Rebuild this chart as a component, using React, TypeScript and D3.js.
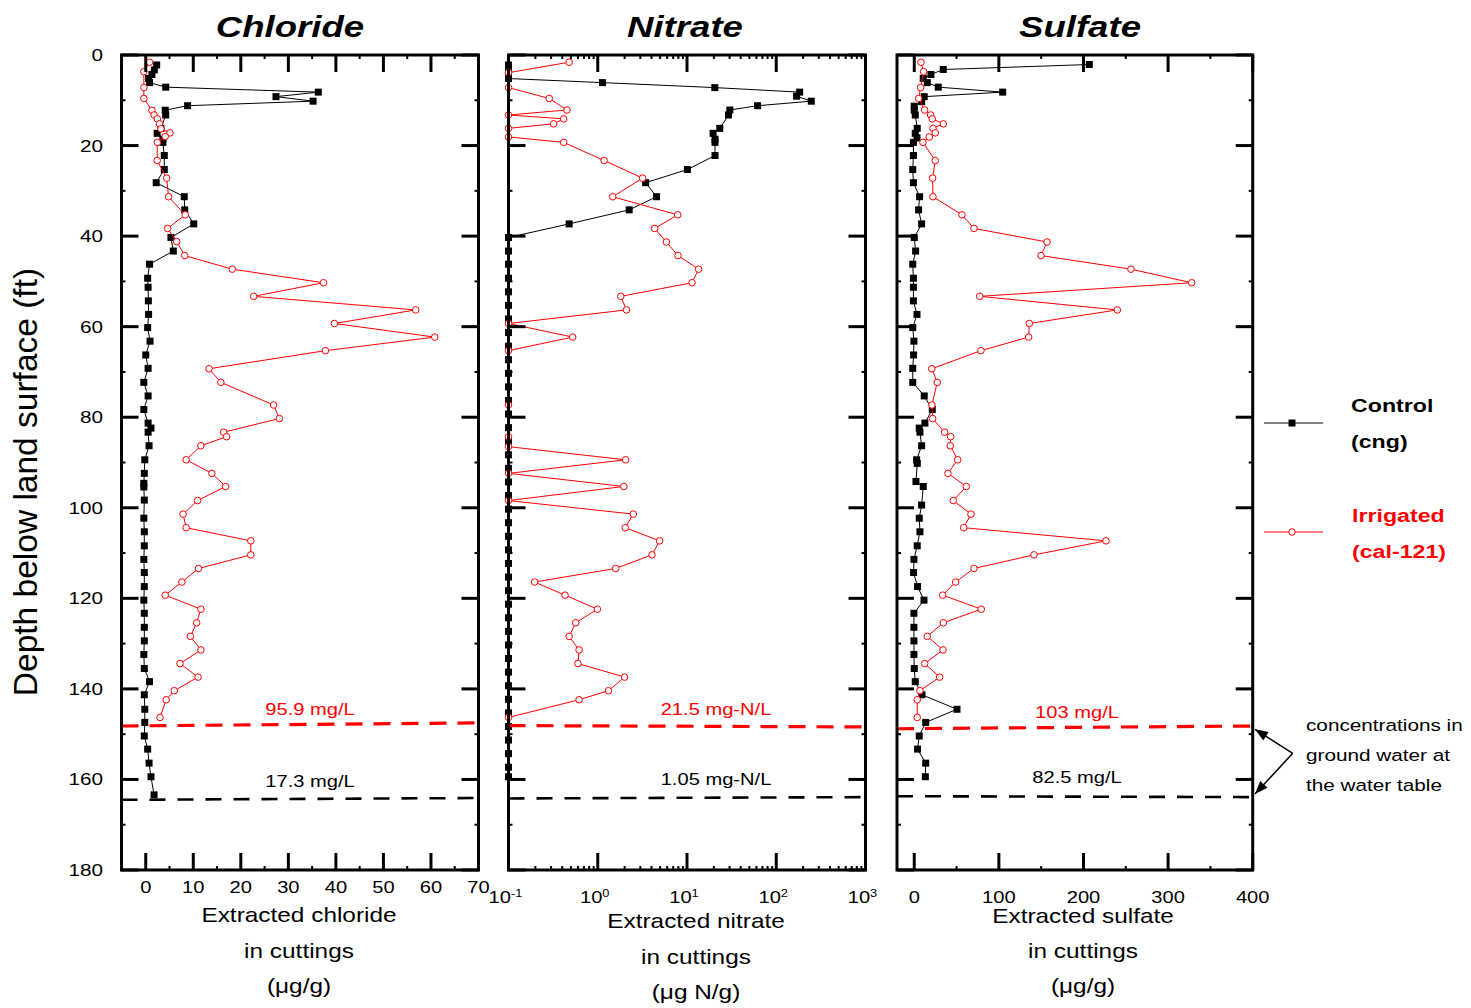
import React from 'react';
import * as d3 from 'd3';

// depth below land surface (ft) and extracted concentration
const clCtrlDepth = [2.2, 3.3, 4.3, 5.2, 6.1, 7.1, 8.2, 9.2, 10.2, 11.2, 12.2, 13.25, 16.2, 17.3, 18.6, 19.3, 22.2, 25.3, 28.2, 31.3, 34.2, 37.3, 40.3, 43.3, 46.2, 49.3, 51.3, 54.3, 57.3, 60.2, 63.2, 66.25, 69.2, 72.3, 75.3, 78.3, 81.3, 82.4, 83.3, 86.3, 89.4, 92.4, 94.6, 95.4, 98.3, 102.3, 105.3, 108.4, 111.4, 114.3, 117.4, 120.4, 123.3, 126.4, 129.4, 132.4, 135.5, 138.4, 141.3, 144.5, 147.4, 150.4, 153.3, 156.4, 159.4, 163.4];
const clCtrlValue = [2.3, 1.8, 1.3, 0.6, 0.8, 4.2, 36.3, 27.4, 35.2, 8.8, 4.1, 4.2, 3.2, 2.4, 3.6, 3.6, 3.9, 3.9, 2.2, 8.1, 8.2, 10.1, 5.3, 5.8, 0.8, 0.4, 0.5, 0.55, 0.6, 0.4, 0.9, 0.0, 0.5, -0.4, 0.5, -0.4, 0.5, 1.1, 0.5, 0.7, -0.2, -0.3, -0.4, -0.4, -0.3, -0.4, -0.3, -0.3, -0.4, -0.3, -0.3, -0.4, -0.3, -0.3, -0.3, -0.4, -0.3, 0.8, -0.3, -0.2, -0.2, -0.3, 0.4, 0.7, 1.1, 1.75];
const clIrrDepth = [1.6, 3.7, 7.2, 9.6, 12.2, 13.25, 14.1, 15.2, 16.3, 17.2, 18.0, 19.3, 23.3, 27.2, 31.3, 35.3, 38.3, 41.2, 44.3, 47.3, 50.3, 53.3, 56.3, 59.3, 62.3, 65.3, 69.3, 72.3, 77.3, 80.3, 83.3, 84.3, 86.3, 89.4, 92.4, 95.3, 98.4, 101.4, 104.4, 107.3, 110.4, 113.4, 116.4, 119.3, 122.4, 125.4, 128.4, 131.4, 134.4, 137.4, 140.4, 142.4, 146.3];
const clIrrValue = [0.8, -0.4, -0.4, -0.4, 1.3, 1.75, 2.45, 2.9, 3.2, 5.1, 4.1, 2.45, 2.4, 4.4, 4.8, 8.3, 4.6, 6.5, 8.2, 18.2, 37.4, 22.7, 56.8, 39.7, 60.8, 37.8, 13.3, 15.8, 26.9, 28.1, 16.4, 17.0, 11.6, 8.5, 13.9, 16.8, 10.9, 7.85, 8.5, 22.1, 22.1, 11.1, 7.6, 4.1, 11.6, 10.7, 9.4, 11.6, 7.2, 11.0, 6.0, 4.3, 3.0];

const noCtrlDepth = [2.2, 3.7, 5.2, 6.1, 7.2, 8.2, 9.1, 10.2, 11.2, 12.15, 13.25, 16.2, 17.3, 18.6, 19.3, 22.2, 25.3, 28.2, 31.3, 34.2, 37.3, 40.3, 43.3, 46.2, 49.3, 52.3, 55.3, 58.3, 61.3, 64.3, 67.3, 70.3, 73.3, 76.3, 79.3, 82.3, 85.3, 88.3, 91.3, 94.3, 97.3, 100.3, 103.3, 106.3, 109.3, 112.3, 115.3, 118.3, 121.3, 124.3, 127.3, 130.3, 133.3, 136.3, 139.3, 142.3, 145.3, 148.3, 151.3, 154.3, 157.3, 159.4];
const noCtrlValue = [0.1, 0.1, 0.1, 1.13, 20.5, 183, 169, 247, 61.8, 30.2, 29.2, 23.3, 19.6, 20.6, 20.6, 20.6, 10.1, 3.44, 4.56, 2.25, 0.478, 0.1, 0.1, 0.1, 0.1, 0.1, 0.1, 0.1, 0.1, 0.1, 0.1, 0.1, 0.1, 0.1, 0.1, 0.1, 0.1, 0.1, 0.1, 0.1, 0.1, 0.1, 0.1, 0.1, 0.1, 0.1, 0.1, 0.1, 0.1, 0.1, 0.1, 0.1, 0.1, 0.1, 0.1, 0.1, 0.1, 0.1, 0.1, 0.1, 0.1, 0.1];
const noIrrDepth = [1.6, 3.9, 7.2, 9.6, 12.15, 13.25, 14.1, 15.2, 16.2, 18.1, 19.3, 23.3, 27.2, 31.3, 35.3, 38.3, 41.3, 44.3, 47.3, 50.3, 53.3, 56.3, 59.3, 62.3, 65.3, 77.3, 84.3, 86.5, 89.4, 92.4, 95.3, 98.4, 101.4, 104.4, 107.3, 110.4, 113.4, 116.4, 119.3, 122.4, 125.4, 128.4, 131.4, 134.4, 137.4, 140.4, 142.4, 146.3];
const noIrrValue = [0.478, 0.1, 0.1, 0.286, 0.453, 0.1, 0.415, 0.32, 0.1, 0.1, 0.415, 1.18, 3.18, 1.47, 7.87, 4.34, 5.87, 7.93, 13.5, 11.4, 1.81, 2.1, 0.1, 0.524, 0.1, 0.1, 0.1, 0.1, 2.05, 0.1, 1.96, 0.1, 2.5, 2.03, 4.93, 4.05, 1.59, 0.196, 0.43, 0.99, 0.566, 0.478, 0.618, 0.6, 2.0, 1.32, 0.618, 0.1];

const soCtrlDepth = [2.1, 3.2, 4.3, 5.15, 6.1, 7.1, 8.2, 9.2, 10.3, 11.3, 12.2, 13.25, 16.2, 17.3, 18.3, 19.3, 22.2, 25.3, 28.2, 31.3, 34.2, 37.3, 40.3, 43.3, 46.2, 49.3, 51.3, 54.3, 57.3, 60.2, 63.2, 66.25, 69.2, 72.3, 75.3, 78.3, 81.3, 82.4, 83.3, 86.3, 89.4, 90.2, 94.2, 95.3, 99.4, 102.3, 105.3, 108.4, 111.4, 114.3, 117.4, 120.4, 123.3, 126.4, 129.4, 132.4, 135.5, 138.4, 141.3, 144.5, 147.4, 150.4, 153.3, 156.4, 159.4];
const soCtrlValue = [206.9, 34.3, 19.7, 10.6, 15.4, 28.4, 104.5, 11.8, 8.7, 0, 0, 1.2, 3.5, 1.2, 3.2, -1, -1, -1.8, -1, 6.3, 5.1, 8.7, 0, 1.6, -1.8, -1, -1, -1, 3.2, -1.8, -0.4, -0.8, -1.8, -1.8, 11.8, 21.3, 12.6, 5.9, 6.7, 8.7, 2.8, 3.6, 2.0, 10.6, 8.7, 5.9, 6.7, 3.5, -0.4, -0.8, 3.9, 11.5, -0.4, -0.4, -0.4, -0.4, 0, 1.2, 9.1, 50.5, 13.5, 5.9, 3.9, 13.5, 13.1];
const soIrrDepth = [1.6, 3.7, 7.2, 9.6, 12.15, 13.25, 14.1, 15.2, 16.2, 17.2, 18.1, 19.3, 23.3, 27.2, 31.3, 35.3, 38.3, 41.3, 44.3, 47.3, 50.3, 53.3, 56.3, 59.3, 62.3, 65.3, 69.3, 72.3, 77.3, 80.3, 83.3, 84.3, 86.3, 89.4, 92.4, 95.3, 98.4, 101.4, 104.4, 107.3, 110.4, 113.4, 116.4, 119.3, 122.4, 125.4, 128.4, 131.4, 134.4, 137.4, 140.4, 142.4, 146.3];
const soIrrValue = [7.9, 11.1, 7.5, 5.2, 12.3, 19.4, 21.3, 34.3, 22.1, 24.8, 17.7, 10.3, 24.8, 21.7, 22.1, 56.4, 70.6, 156.9, 149.8, 256.1, 327.9, 77.3, 240, 136, 135.2, 78.8, 20.6, 27.2, 20.9, 21.7, 35.9, 43, 42.6, 51.3, 39.8, 61.5, 46.1, 67, 58.4, 226.6, 141.5, 70.6, 48.9, 33.6, 79.2, 34.3, 15.4, 34, 12.3, 30, 6.7, 3.5, 3.5];

// water table depth (left end, right end) and groundwater concentration labels
const wtIrrDepth = [[148.2, 147.5], [148.1, 148.4], [148.8, 148.2]];
const wtCtrlDepth = [[164.5, 164.1], [164.2, 163.9], [163.7, 163.9]];
const wtIrrLabel = ['95.9 mg/L', '21.5 mg-N/L', '103 mg/L'];
const wtCtrlLabel = ['17.3 mg/L', '1.05 mg-N/L', '82.5 mg/L'];

const titles = ['Chloride', 'Nitrate', 'Sulfate'];
const clTicks = [0, 10, 20, 30, 40, 50, 60, 70];
const clMinor = [5, 15, 25, 35, 45, 55, 65];
const noTicks = [0.1, 1, 10, 100, 1000];
const noExp = ['-1', '0', '1', '2', '3'];
const soTicks = [0, 100, 200, 300, 400];
const soMinor = [50, 150, 250, 350];
const depthTicks = [0, 20, 40, 60, 80, 100, 120, 140, 160, 180];
const depthMinor = [10, 30, 50, 70, 90, 110, 130, 150, 170];
const xTitles = [
  ['Extracted chloride', 'in cuttings', '(μg/g)'],
  ['Extracted nitrate', 'in cuttings', '(μg N/g)'],
  ['Extracted sulfate', 'in cuttings', '(μg/g)'],
];
const legendLabels = [['Control', '(cng)'], ['Irrigated', '(cal-121)']];
const noteLines = ['concentrations in', 'ground water at', 'the water table'];

const W = 1471;
const H = 1008;
const TOP = 55;
const BOTTOM = 870;
const FONT = "'Liberation Sans', Arial, Helvetica, sans-serif";
const RED = '#ff0000';
const SX = 1.22; // the original figure is stretched horizontally

const y = d3.scaleLinear().domain([0, 180]).range([TOP, BOTTOM]);

const T = ({ x, y, anchor = 'middle', size = 17, weight = 'normal', italic = false, fill = '#000', sx = SX, children }: any) => (
  <text
    transform={`translate(${x},${y}) scale(${sx},1)`}
    textAnchor={anchor}
    fontSize={size}
    fontWeight={weight}
    fontStyle={italic ? 'italic' : 'normal'}
    fill={fill}
    fontFamily={FONT}
  >
    {children}
  </text>
);

const panels = [
  {
    x: d3.scaleLinear().domain([-5.1, 70]).range([121.5, 478.5]),
    majors: clTicks, minors: clMinor,
    labels: clTicks.map(String), labelY: 893,
    ctrl: [clCtrlDepth, clCtrlValue], irr: [clIrrDepth, clIrrValue],
    titleX: 290, axisX: 299, axisY: [922, 958, 993], wtLabelX: 310,
  },
  {
    x: d3.scaleLog().domain([0.1, 1000]).range([508.5, 865.5]),
    majors: noTicks, minors: [] as number[],
    labels: noExp, labelY: 903,
    ctrl: [noCtrlDepth, noCtrlValue], irr: [noIrrDepth, noIrrValue],
    titleX: 685, axisX: 696, axisY: [928, 964, 999], wtLabelX: 716,
  },
  {
    x: d3.scaleLinear().domain([-20.4, 400]).range([897, 1252.7]),
    majors: soTicks, minors: soMinor,
    labels: soTicks.map(String), labelY: 903,
    ctrl: [soCtrlDepth, soCtrlValue], irr: [soIrrDepth, soIrrValue],
    titleX: 1080, axisX: 1083, axisY: [923, 958, 993], wtLabelX: 1077,
  },
];
panels[1].minors = (panels[1].x as any).ticks().filter((t: number) => !noTicks.includes(t));

const Panel = ({ p, i }: any) => {
  const x = p.x;
  const [x0, x1] = x.range();
  const line = d3.line<[number, number]>().x((d) => x(d[1])).y((d) => y(d[0]));
  const ctrlPts: [number, number][] = p.ctrl[0].map((d: number, k: number) => [d, p.ctrl[1][k]]);
  const irrPts: [number, number][] = p.irr[0].map((d: number, k: number) => [d, p.irr[1][k]]);
  const wtI = wtIrrDepth[i];
  const wtC = wtCtrlDepth[i];
  return (
    <g>
      {/* data */}
      <path d={line(ctrlPts) || ''} fill="none" stroke="#000" strokeWidth={1} />
      {ctrlPts.map((d, k) => (
        <rect key={'c' + k} x={x(d[1]) - 3.5} y={y(d[0]) - 3.5} width={7} height={7} fill="#000" />
      ))}
      <path d={line(irrPts) || ''} fill="none" stroke={RED} strokeWidth={1} />
      {irrPts.map((d, k) => (
        <circle key={'r' + k} cx={x(d[1])} cy={y(d[0])} r={3.3} fill="#fff" stroke={RED} strokeWidth={1} />
      ))}

      {/* water table */}
      <line x1={x0} x2={x1} y1={y(wtI[0])} y2={y(wtI[1])} stroke={RED} strokeWidth={3.2} strokeDasharray="17,11" />
      <line x1={x0} x2={x1} y1={y(wtC[0])} y2={y(wtC[1])} stroke="#000" strokeWidth={2.6} strokeDasharray="16,12" />
      <T x={p.wtLabelX} y={y(wtI[0]) - 11} fill={RED} size={16.5}>{wtIrrLabel[i]}</T>
      <T x={p.wtLabelX} y={y(wtC[0]) - 13} size={16.5}>{wtCtrlLabel[i]}</T>

      {/* ticks */}
      {p.majors.map((t: number) => (
        <g key={'mx' + t}>
          <line x1={x(t)} x2={x(t)} y1={TOP} y2={TOP + 17} stroke="#000" strokeWidth={3} />
          <line x1={x(t)} x2={x(t)} y1={BOTTOM} y2={BOTTOM - 17} stroke="#000" strokeWidth={3} />
        </g>
      ))}
      {p.minors.map((t: number) => (
        <g key={'nx' + t}>
          <line x1={x(t)} x2={x(t)} y1={TOP} y2={TOP + 4} stroke="#000" strokeWidth={2} />
          <line x1={x(t)} x2={x(t)} y1={BOTTOM} y2={BOTTOM - 4} stroke="#000" strokeWidth={2} />
        </g>
      ))}
      {depthTicks.map((t) => (
        <g key={'my' + t}>
          <line x1={x0} x2={x0 + 17} y1={y(t)} y2={y(t)} stroke="#000" strokeWidth={3} />
          <line x1={x1} x2={x1 - 17} y1={y(t)} y2={y(t)} stroke="#000" strokeWidth={3} />
        </g>
      ))}
      {depthMinor.map((t) => (
        <g key={'ny' + t}>
          <line x1={x0} x2={x0 + 4} y1={y(t)} y2={y(t)} stroke="#000" strokeWidth={2} />
          <line x1={x1} x2={x1 - 4} y1={y(t)} y2={y(t)} stroke="#000" strokeWidth={2} />
        </g>
      ))}

      {/* frame */}
      <rect x={x0} y={TOP} width={x1 - x0} height={BOTTOM - TOP} fill="none" stroke="#000" strokeWidth={3} />

      {/* tick labels */}
      {p.majors.map((t: number, k: number) =>
        i === 1 ? (
          <T key={'l' + t} x={x(t) - 3} y={p.labelY} size={16.5}>
            10<tspan fontSize={10.5} dy={-6}>{p.labels[k]}</tspan>
          </T>
        ) : (
          <T key={'l' + t} x={x(t)} y={p.labelY} size={16.5}>{p.labels[k]}</T>
        )
      )}

      {/* titles */}
      <T x={p.titleX} y={37} size={30} weight="bold" italic>{titles[i]}</T>
      {xTitles[i].map((s, k) => (
        <T key={'a' + k} x={p.axisX} y={p.axisY[k]} size={20}>{s}</T>
      ))}
    </g>
  );
};

const arrowHead = (fx: number, fy: number, tx: number, ty: number) => {
  const a = Math.atan2(ty - fy, tx - fx);
  const L = 13;
  const w = 5;
  const bx = tx - L * Math.cos(a);
  const by = ty - L * Math.sin(a);
  return `M${tx},${ty}L${bx + w * Math.sin(a)},${by - w * Math.cos(a)}L${bx - w * Math.sin(a)},${by + w * Math.cos(a)}Z`;
};

export default function App() {
  const vx = 1292.7;
  const vy = 753.3;
  const tips = [[1255, 729.3], [1255, 794]];
  return (
    <svg width={W} height={H} style={{ position: 'absolute', left: 0, top: 0, background: '#fff' }}>
      <rect width={W} height={H} fill="#fff" />
      {panels.map((p, i) => (
        <Panel key={i} p={p} i={i} />
      ))}

      {/* depth axis labels */}
      {depthTicks.map((t) => (
        <T key={'yl' + t} x={103} y={y(t) + 6} anchor="end" size={17}>{String(t)}</T>
      ))}
      <text
        transform={`translate(37,482) rotate(-90)`}
        textAnchor="middle"
        fontSize={33.5}
        fontFamily={FONT}
        fill="#000"
      >
        Depth below land surface (ft)
      </text>

      {/* legend */}
      <line x1={1264} x2={1323} y1={423} y2={423} stroke="#000" strokeWidth={1} />
      <rect x={1292 - 3.5} y={423 - 3.5} width={7} height={7} fill="#000" />
      <line x1={1264} x2={1323} y1={532} y2={532} stroke={RED} strokeWidth={1} />
      <circle cx={1292} cy={532} r={3.3} fill="#fff" stroke={RED} strokeWidth={1} />
      <T x={1351} y={412} anchor="start" size={19} weight="bold">{legendLabels[0][0]}</T>
      <T x={1351} y={448} anchor="start" size={19} weight="bold">{legendLabels[0][1]}</T>
      <T x={1352} y={522} anchor="start" size={19} weight="bold" fill={RED}>{legendLabels[1][0]}</T>
      <T x={1352} y={558} anchor="start" size={19} weight="bold" fill={RED}>{legendLabels[1][1]}</T>

      {/* note with arrows */}
      {noteLines.map((s, k) => (
        <T key={'n' + k} x={1306} y={731 + k * 30} anchor="start" size={17}>{s}</T>
      ))}
      {tips.map(([tx, ty], k) => (
        <g key={'ar' + k}>
          <line x1={vx} y1={vy} x2={tx} y2={ty} stroke="#000" strokeWidth={1.5} />
          <path d={arrowHead(vx, vy, tx, ty)} fill="#000" />
        </g>
      ))}
    </svg>
  );
}
